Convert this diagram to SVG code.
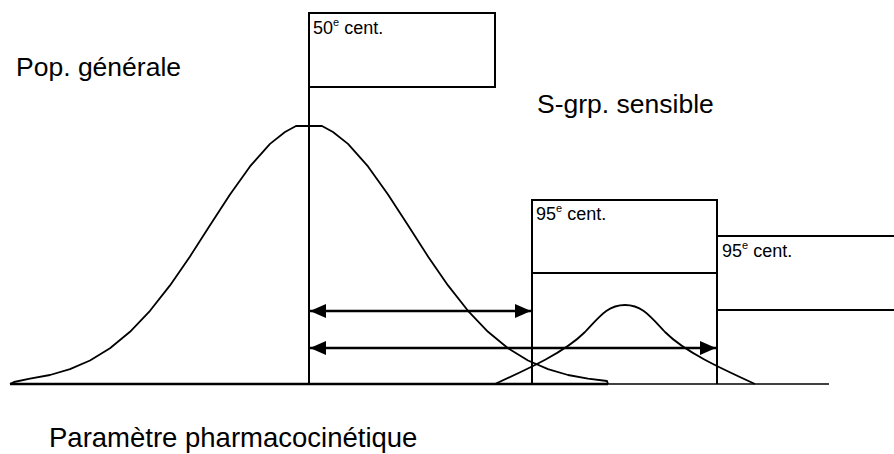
<svg xmlns="http://www.w3.org/2000/svg" width="894" height="454" viewBox="0 0 894 454">
<defs>
<style>
.ln{stroke:#000;stroke-width:2;fill:none}
.thin{stroke:#000;stroke-width:1.5;fill:none}
.crv{stroke:#000;stroke-width:1.8;fill:none;stroke-linejoin:round}
.arr{stroke:#000;stroke-width:2.6;fill:none;marker-start:url(#ah);marker-end:url(#ah)}
.big{font-family:"Liberation Sans",Arial,sans-serif;font-size:26.5px;fill:#000}
.lbl{font-family:"Liberation Sans",Arial,sans-serif;font-size:18px;fill:#000}
.sup{font-size:11px}
</style>
<marker id="ah" markerUnits="userSpaceOnUse" viewBox="0 0 16 14" refX="16" refY="7" markerWidth="16" markerHeight="14" orient="auto-start-reverse">
<path d="M0,0 L16,7 L0,14 Z" fill="#000"/>
</marker>
</defs>
<rect width="894" height="454" fill="#fff"/>

<g id="curves">
<path id="pop-curve" class="crv" d="M10,384 L14,382 L30,378.7 L50,375 L70,369.1 L90,360.5 L110,348.3 L130,331.8 L150,310.8 L170,285.4 L190,256.4 L210,225.3 L230,194.4 L250,166.4 L270,143.9 L285,132 L296,126 L322,126 L333,132 L348,143.9 L368,166.4 L388,194.4 L408,225.3 L428,256.4 L448,285.4 L468,310.8 L488,331.8 L508,348.3 L528,360.5 L548,369.1 L568,375 L588,378.7 L607,381 L608,384"/>
<path id="sub-curve" class="crv" d="M495,384 C530,368 565,352 585,332 C600,316 608,305 625,305 C642,305 650,316 665,332 C685,352 720,368 755,384"/>
</g>

<g id="axis">
<line class="ln" x1="10" y1="384" x2="608" y2="384" style="stroke-width:2.6"/>
<line class="thin" x1="608" y1="384" x2="829" y2="384"/>
</g>

<g id="box-50">
<rect class="ln" x="309" y="13" width="186" height="74"/>
<text class="lbl" x="313" y="34">50<tspan class="sup" dy="-8">e</tspan><tspan dy="8"> cent.</tspan></text>
</g>

<g id="box-95a">
<rect class="ln" x="532" y="200" width="185" height="73"/>
<text class="lbl" x="536" y="220">95<tspan class="sup" dy="-8">e</tspan><tspan dy="8"> cent.</tspan></text>
</g>

<g id="box-95b">
<line class="ln" x1="718" y1="236" x2="894" y2="236"/>
<line class="ln" x1="718" y1="310" x2="894" y2="310"/>
<text class="lbl" x="722" y="257">95<tspan class="sup" dy="-8">e</tspan><tspan dy="8"> cent.</tspan></text>
</g>

<g id="labels">
<text class="big" x="16" y="76">Pop. générale</text>
<text class="big" x="537" y="113">S-grp. sensible</text>
<text class="big" x="49" y="447" style="font-size:27.5px">Paramètre pharmacocinétique</text>
</g>

<g id="connectors">
<line class="ln" x1="309" y1="87" x2="309" y2="384"/>
<line class="ln" x1="532" y1="273" x2="532" y2="384"/>
<line class="ln" x1="717" y1="273" x2="717" y2="384"/>
<line class="arr" x1="310" y1="311" x2="531" y2="311"/>
<line class="arr" x1="310" y1="348" x2="716" y2="348"/>
</g>
</svg>
